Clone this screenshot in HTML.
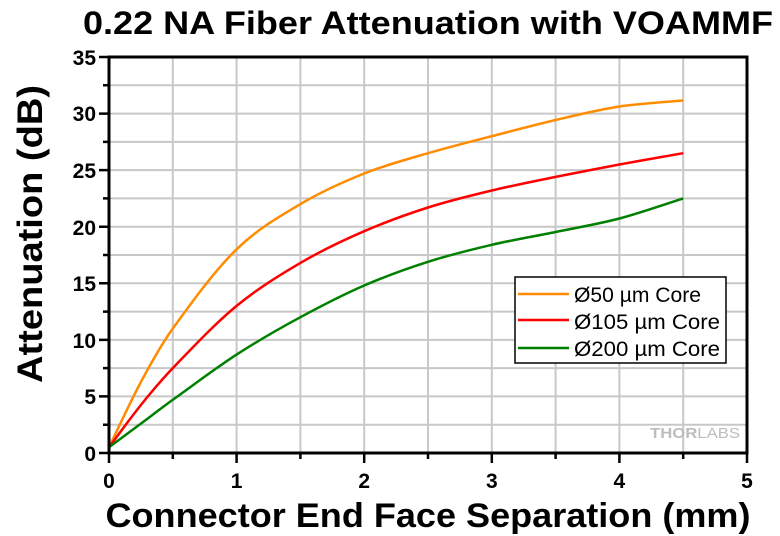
<!DOCTYPE html><html><head><style>body{margin:0;background:#fff}svg{display:block;font-family:"Liberation Sans",Arial,sans-serif;font-weight:bold}</style></head><body>
<svg width="780" height="536" viewBox="0 0 780 536">
<text x="428" y="34" font-size="32" text-anchor="middle" textLength="690" lengthAdjust="spacingAndGlyphs">0.22 NA Fiber Attenuation with VOAMMF</text>
<g stroke="#c8c8c8" stroke-width="2">
<path d="M172.8 57V453M236.6 57V453M300.4 57V453M364.2 57V453M428 57V453M491.8 57V453M555.6 57V453M619.4 57V453M683.2 57V453"/>
<path d="M109 424.7H747M109 396.4H747M109 368.1H747M109 339.9H747M109 311.6H747M109 283.3H747M109 255H747M109 226.7H747M109 198.4H747M109 170.1H747M109 141.9H747M109 113.6H747M109 85.3H747"/>
</g>
<g fill="none" stroke-width="2.5" stroke-linejoin="round">
<path stroke="#ff8c00" d="M109 447.3C114.3 436.4 130.3 401.8 140.9 382C151.5 362.2 162.2 343.2 172.8 328.5C194.1 299 215.3 270 236.6 249.3C257.9 228.6 279.1 216.7 300.4 204.1C321.7 191.5 342.9 182 364.2 173.5C385.5 165 406.7 159.4 428 153.2C449.3 147 470.5 141.7 491.8 136.2C513.1 130.7 534.3 125 555.6 120C576.9 115 598.1 109.8 619.4 106.5C640.7 103.3 672.6 101.5 683.2 100.5"/>
<path stroke="#ff0000" d="M109 447.3C114.3 440.3 130.3 418.2 140.9 405C151.5 391.8 162.2 379.1 172.8 368.1C194.1 346.1 215.3 323.4 236.6 305.9C257.9 288.4 279.1 275.4 300.4 262.9C321.7 250.5 342.9 240.4 364.2 231.2C385.5 222 406.7 214.3 428 207.5C449.3 200.7 470.5 195.6 491.8 190.5C513.1 185.4 534.3 181.2 555.6 176.9C576.9 172.6 598.1 168.5 619.4 164.5C640.7 160.6 672.6 155.1 683.2 153.2"/>
<path stroke="#008000" d="M109 447.3C114.3 443.3 130.3 431.5 140.9 423.6C151.5 415.7 162.2 407.5 172.8 399.8C194.1 384.5 215.3 368.4 236.6 354.6C257.9 340.8 279.1 328.7 300.4 317.2C321.7 305.7 342.9 294.7 364.2 285.5C385.5 276.3 406.7 268.6 428 261.8C449.3 255 470.5 249.8 491.8 244.8C513.1 239.8 534.3 236.4 555.6 232C576.9 227.6 598.1 224.1 619.4 218.5C640.7 212.9 672.6 201.75 683.2 198.4"/>
</g>
<rect x="109" y="57" width="638" height="396" fill="none" stroke="#000" stroke-width="3"/>
<g stroke="#000" stroke-width="2.5">
<path d="M109 453v10M236.6 453v10M364.2 453v10M491.8 453v10M619.4 453v10M747 453v10M172.8 453v6M300.4 453v6M428 453v6M555.6 453v6M683.2 453v6"/>
<path d="M109 453h-10M109 396.4h-10M109 339.9h-10M109 283.3h-10M109 226.7h-10M109 170.1h-10M109 113.6h-10M109 57h-10M109 424.7h-6M109 368.1h-6M109 311.6h-6M109 255h-6M109 198.4h-6M109 141.9h-6M109 85.3h-6"/>
</g>
<g font-size="21" text-anchor="middle">
<text x="109" y="488">0</text><text x="236.6" y="488">1</text><text x="364.2" y="488">2</text><text x="491.8" y="488">3</text><text x="619.4" y="488">4</text><text x="747" y="488">5</text>
</g>
<g font-size="21" text-anchor="end">
<text x="96" y="461">0</text><text x="96" y="404">5</text><text x="96" y="348">10</text><text x="96" y="291">15</text><text x="96" y="235">20</text><text x="96" y="178">25</text><text x="96" y="121">30</text><text x="96" y="65">35</text>
</g>
<text x="428" y="527" font-size="34" text-anchor="middle" textLength="645" lengthAdjust="spacingAndGlyphs">Connector End Face Separation (mm)</text>
<text transform="translate(42,234) rotate(-90)" font-size="35" text-anchor="middle" textLength="298" lengthAdjust="spacingAndGlyphs">Attenuation (dB)</text>
<rect x="515" y="277" width="211" height="86" fill="#fff" stroke="#000" stroke-width="1.5"/>
<g stroke-width="2.5"><path d="M518 294h51" stroke="#ff8c00"/><path d="M518 320h51" stroke="#ff0000"/><path d="M518 348h51" stroke="#008000"/></g>
<g font-size="21" font-weight="normal">
<text x="574" y="302" textLength="127" lengthAdjust="spacingAndGlyphs">Ø50 µm Core</text><text x="574" y="329" textLength="146" lengthAdjust="spacingAndGlyphs">Ø105 µm Core</text><text x="574" y="356" textLength="146" lengthAdjust="spacingAndGlyphs">Ø200 µm Core</text>
</g>
<text x="650" y="438" font-size="15" fill="#bdbdbd" textLength="90" lengthAdjust="spacingAndGlyphs">THOR<tspan font-weight="normal">LABS</tspan></text>
</svg></body></html>
